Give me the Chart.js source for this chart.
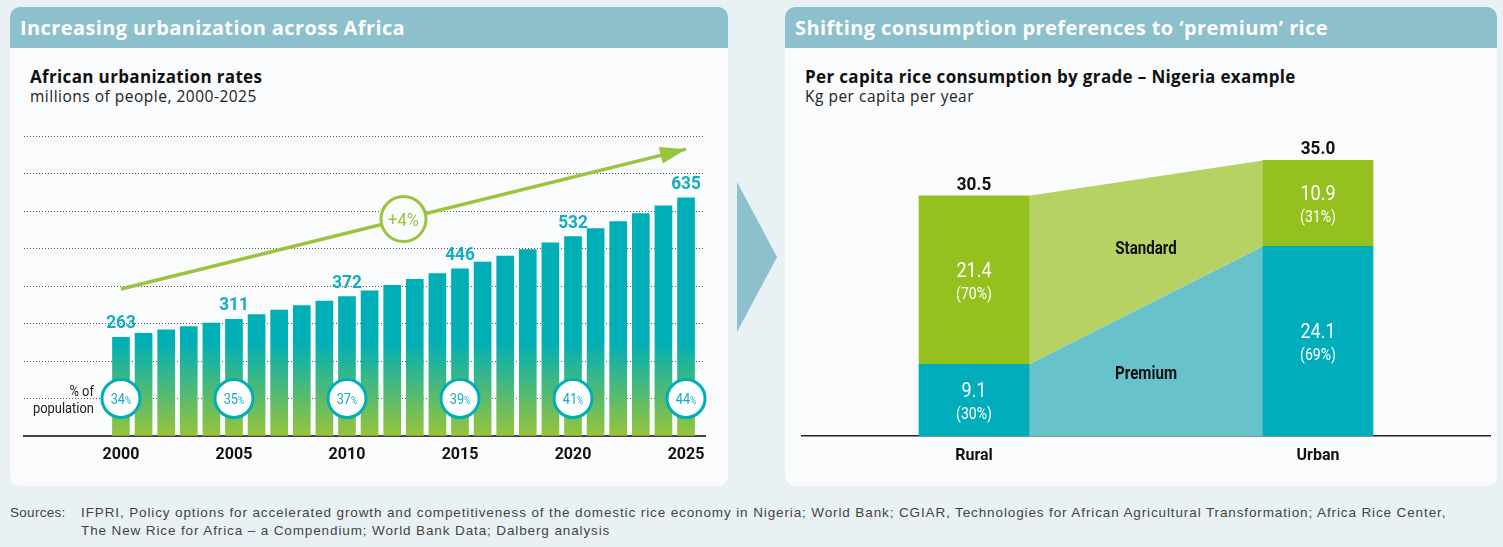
<!DOCTYPE html>
<html>
<head>
<meta charset="utf-8">
<script src="https://cdn.jsdelivr.net/npm/chart.js@4.4.1/dist/chart.umd.min.js"></script>
<style>
  html, body { margin:0; padding:0; }
  body { width:1503px; height:547px; overflow:hidden; background:#E9F1F4; position:relative; font-family: 'Open Sans', Lato, sans-serif; }
  .panel { position:absolute; top:7px; height:479px; background:#F9FBFC; border-radius:10px; overflow:hidden; }
  .panel .hdr { height:41px; line-height:42px; background:#8BC0CC; color:#fff; font-weight:700; font-size:20px; letter-spacing:0.4px; padding-left:10px; white-space:nowrap; }
  .ttl { position:absolute; font-weight:700; font-size:17px; letter-spacing:0.35px; color:#111; white-space:nowrap; }
  .sub { position:absolute; font-size:15.5px; letter-spacing:0.5px; color:#222; white-space:nowrap; }
  canvas { position:absolute; top:0; }
  #chev { position:absolute; left:737px; top:182px; width:40px; height:150px; background:#8BC0CC; clip-path: polygon(0 0, 100% 50%, 0 100%); }
  .src { position:absolute; font-family:'Liberation Sans', Arial, sans-serif; font-size:13.5px; letter-spacing:0.88px; color:#444; white-space:nowrap; }
</style>
</head>
<body>
<div class="panel" style="left:10px; width:718px;"><div class="hdr">Increasing urbanization across Africa</div></div>
<div class="panel" style="left:785px; width:712px;"><div class="hdr">Shifting consumption preferences to ‘premium’ rice</div></div>
<div class="ttl" style="left:30px; top:65px;">African urbanization rates</div>
<div class="sub" style="left:30px; top:85px;">millions of people, 2000-2025</div>
<div class="ttl" style="left:805px; top:65px;">Per capita rice consumption by grade – Nigeria example</div>
<div class="sub" style="left:805px; top:85px;">Kg per capita per year</div>
<div id="chev"></div>
<div class="src" style="left:10px; top:505px; letter-spacing:0.3px;">Sources:</div>
<div class="src" style="left:81px; top:505px;">IFPRI, Policy options for accelerated growth and competitiveness of the domestic rice economy in Nigeria; World Bank; CGIAR, Technologies for African Agricultural Transformation; Africa Rice Center,</div>
<div class="src" style="left:81px; top:523px;">The New Rice for Africa – a Compendium; World Bank Data; Dalberg analysis</div>

<canvas id="left" width="740" height="490" style="left:0;"></canvas>
<canvas id="right" width="718" height="490" style="left:785px;"></canvas>

<script>
// ---------- Data: left chart ----------
const years = [2000,2001,2002,2003,2004,2005,2006,2007,2008,2009,2010,2011,2012,2013,2014,2015,2016,2017,2018,2019,2020,2021,2022,2023,2024,2025];
const urbanPop = [263,274,283,292,301,311,324,336,348,360,372,387,402,418,433,446,464,480,497,515,532,553,572,593,614,635];
const labelYears = [2000,2005,2010,2015,2020,2025];
const urbanShare = [34,35,37,39,41,44];
const trendYears = [2000,2025];
const trendValues = [392,765];
const trendLabel = '+4%';
const popAxisNote = ['% of', 'population'];

// ---------- Data: right chart ----------
const areas = ['Rural','Urban'];
const premium = [9.1, 24.1];
const standard = [21.4, 10.9];
const gradeNames = ['Premium','Standard'];

const NUMF = "Roboto, 'Liberation Sans', sans-serif";
const TEAL = '#00AEB8';
const TEAL_TXT = '#14ADBE';
const GREEN = '#9AC43C';
const PANEL = '#F9FBFC';

Chart.defaults.animation = false;
Chart.defaults.plugins.tooltip.enabled = false;
Chart.defaults.plugins.legend.display = false;

function cText(ctx, txt, x, y, font, align, sx) {
  ctx.save();
  ctx.font = font;
  ctx.textAlign = align;
  ctx.textBaseline = 'alphabetic';
  ctx.translate(x, y);
  ctx.scale(sx, 1);
  ctx.fillText(txt, 0, 0);
  ctx.restore();
}

// ---------- Left chart decorations ----------
const leftDecor = {
  id: 'leftDecor',
  afterDatasetsDraw(chart) {
    const {ctx, scales:{x, y}} = chart;
    const barMeta = chart.getDatasetMeta(2);
    ctx.save();
    // value labels
    ctx.fillStyle = TEAL_TXT;
    labelYears.forEach(yr => {
      const i = years.indexOf(yr);
      const el = barMeta.data[i];
      cText(ctx, String(urbanPop[i]), el.x, el.y - 9, `bold 18.5px ${NUMF}`, 'center', 0.93);
    });
    // percent text inside circles
    const cy = y.getPixelForValue(100);
    const SX = 0.85;
    labelYears.forEach((yr, k) => {
      const cx = x.getPixelForValue(yr);
      const num = String(urbanShare[k]);
      ctx.font = `15px ${NUMF}`;
      const w1 = ctx.measureText(num).width * SX;
      ctx.font = `10px ${NUMF}`;
      const w2 = ctx.measureText('%').width * SX;
      const sx0 = cx - (w1 + w2) / 2;
      cText(ctx, num, sx0, cy + 5.5, `15px ${NUMF}`, 'left', SX);
      cText(ctx, '%', sx0 + w1, cy + 5.5, `10px ${NUMF}`, 'left', SX);
    });
    // "% of population"
    ctx.fillStyle = '#222';
    const nx = x.getPixelForValue(labelYears[0]) - 27;
    cText(ctx, popAxisNote[0], nx, cy - 3, `15px ${NUMF}`, 'right', 0.86);
    cText(ctx, popAxisNote[1], nx, cy + 14, `15px ${NUMF}`, 'right', 0.86);
    // trend arrowhead
    const x1 = x.getPixelForValue(trendYears[0]), y1 = y.getPixelForValue(trendValues[0]);
    const x2 = x.getPixelForValue(trendYears[1]), y2 = y.getPixelForValue(trendValues[1]);
    const ang = Math.atan2(y2 - y1, x2 - x1);
    const L = 26, H = 8.5;
    ctx.fillStyle = GREEN;
    ctx.beginPath();
    ctx.moveTo(x2, y2);
    ctx.lineTo(x2 - L*Math.cos(ang) + H*Math.sin(ang), y2 - L*Math.sin(ang) - H*Math.cos(ang));
    ctx.lineTo(x2 - L*Math.cos(ang) - H*Math.sin(ang), y2 - L*Math.sin(ang) + H*Math.cos(ang));
    ctx.closePath();
    ctx.fill();
    // growth circle
    const mx = x.getPixelForValue((trendYears[0] + trendYears[1]) / 2);
    const my = y.getPixelForValue((trendValues[0] + trendValues[1]) / 2);
    ctx.beginPath();
    ctx.arc(mx, my, 22.5, 0, Math.PI * 2);
    ctx.fillStyle = PANEL;
    ctx.fill();
    ctx.lineWidth = 3;
    ctx.strokeStyle = GREEN;
    ctx.stroke();
    ctx.fillStyle = GREEN;
    cText(ctx, trendLabel, mx, my + 6.5, `18px ${NUMF}`, 'center', 0.92);
    ctx.restore();
  }
};

new Chart(document.getElementById('left'), {
  data: {
    datasets: [
      {
        type: 'line',
        data: labelYears.map(yr => ({x: yr, y: 100})),
        showLine: false,
        pointRadius: 19,
        pointBorderWidth: 3,
        pointBackgroundColor: '#FFFFFF',
        pointBorderColor: TEAL,
        clip: false
      },
      {
        type: 'line',
        data: trendYears.map((yr, i) => ({x: yr, y: trendValues[i]})),
        borderColor: GREEN,
        borderWidth: 3.5,
        pointRadius: 0,
        clip: false
      },
      {
        type: 'bar',
        data: years.map((yr, i) => ({x: yr, y: urbanPop[i]})),
        barThickness: 17,
        backgroundColor: (c) => {
          const ch = c.chart;
          const ca = ch.chartArea;
          if (!ca) return TEAL;
          const g = ch.ctx.createLinearGradient(0, ca.bottom, 0, ch.scales.y.getPixelForValue(250));
          g.addColorStop(0, '#98C43A');
          g.addColorStop(1, '#00AFB6');
          return g;
        }
      }
    ]
  },
  options: {
    responsive: false,
    layout: { padding: { left: 24, right: 35, top: 136, bottom: 14 } },
    scales: {
      x: {
        type: 'linear',
        offset: false,
        min: 1995.71,
        max: 2025.84,
        afterBuildTicks: (s) => { s.ticks = labelYears.map(v => ({value: v})); },
        afterFit: (s) => { s.height = 40; },
        grid: { display: false, drawTicks: false },
        border: { display: true, color: '#444', width: 2 },
        ticks: {
          autoSkip: false, maxRotation: 0, padding: 9,
          color: '#111',
          font: { family: NUMF, size: 16, weight: 'bold' },
          callback: (v) => String(v)
        }
      },
      y: {
        min: 0, max: 800,
        afterFit: (s) => { s.width = 0; },
        ticks: { display: false, stepSize: 100 },
        grid: { color: '#555', lineWidth: 1, drawTicks: false, borderDash: [1, 2] },
        border: { display: false, dash: [1, 2] }
      }
    }
  },
  plugins: [leftDecor]
});

// ---------- Right chart decorations ----------
function segGeom(el) {
  const p = el.getProps(['x', 'y', 'base', 'width'], true);
  return { l: p.x - p.width / 2, r: p.x + p.width / 2, x: p.x, top: Math.min(p.y, p.base), bot: Math.max(p.y, p.base) };
}
const flowColors = ['#67C2CB', '#B6D164'];
const flowLabelDy = [8, 12];
const rightDecor = {
  id: 'rightDecor',
  beforeDatasetsDraw(chart) {
    const {ctx} = chart;
    ctx.save();
    [0, 1].forEach(d => {
      const meta = chart.getDatasetMeta(d);
      const a = segGeom(meta.data[0]), b = segGeom(meta.data[1]);
      ctx.fillStyle = flowColors[d];
      ctx.beginPath();
      ctx.moveTo(a.r, a.top);
      ctx.lineTo(b.l, b.top);
      ctx.lineTo(b.l, b.bot);
      ctx.lineTo(a.r, a.bot);
      ctx.closePath();
      ctx.fill();
    });
    ctx.restore();
  },
  afterDatasetsDraw(chart) {
    const {ctx} = chart;
    const series = [premium, standard];
    ctx.save();
    // flow labels
    [0, 1].forEach(d => {
      const meta = chart.getDatasetMeta(d);
      const a = segGeom(meta.data[0]), b = segGeom(meta.data[1]);
      const mx = (a.r + b.l) / 2;
      const my = (a.top + b.top + a.bot + b.bot) / 4;
      ctx.fillStyle = '#111';
      cText(ctx, gradeNames[d], mx, my + flowLabelDy[d], `bold 18px ${NUMF}`, 'center', 0.84);
    });
    // in-bar labels
    areas.forEach((ar, i) => {
      const total = premium[i] + standard[i];
      [0, 1].forEach(d => {
        const g = segGeom(chart.getDatasetMeta(d).data[i]);
        const mid = (g.top + g.bot) / 2;
        const v = series[d][i];
        ctx.fillStyle = '#FFFFFF';
        cText(ctx, v.toFixed(1), g.x, mid - 3, `20px ${NUMF}`, 'center', 0.9);
        cText(ctx, '(' + Math.round(v / total * 100) + '%)', g.x, mid + 19, `16px ${NUMF}`, 'center', 0.88);
      });
      const t = segGeom(chart.getDatasetMeta(1).data[i]);
      ctx.fillStyle = '#111';
      cText(ctx, total.toFixed(1), t.x, t.top - 6, `bold 18px ${NUMF}`, 'center', 0.95);
    });
    ctx.restore();
  }
};

new Chart(document.getElementById('right'), {
  type: 'bar',
  data: {
    labels: areas,
    datasets: [
      { label: gradeNames[0], data: premium, backgroundColor: '#00ADBA', barThickness: 110 },
      { label: gradeNames[1], data: standard, backgroundColor: '#95C11F', barThickness: 110 }
    ]
  },
  options: {
    responsive: false,
    layout: { padding: { left: 17, right: 13, top: 121, bottom: 14 } },
    scales: {
      x: {
        stacked: true,
        afterFit: (s) => { s.height = 40; },
        grid: { display: false, drawTicks: false },
        border: { display: true, color: '#222', width: 1.5 },
        ticks: { padding: 10, color: '#111', font: { family: NUMF, size: 16, weight: 'bold' } }
      },
      y: {
        stacked: true, min: 0, max: 40, display: false
      }
    }
  },
  plugins: [rightDecor]
});
</script>
</body>
</html>
